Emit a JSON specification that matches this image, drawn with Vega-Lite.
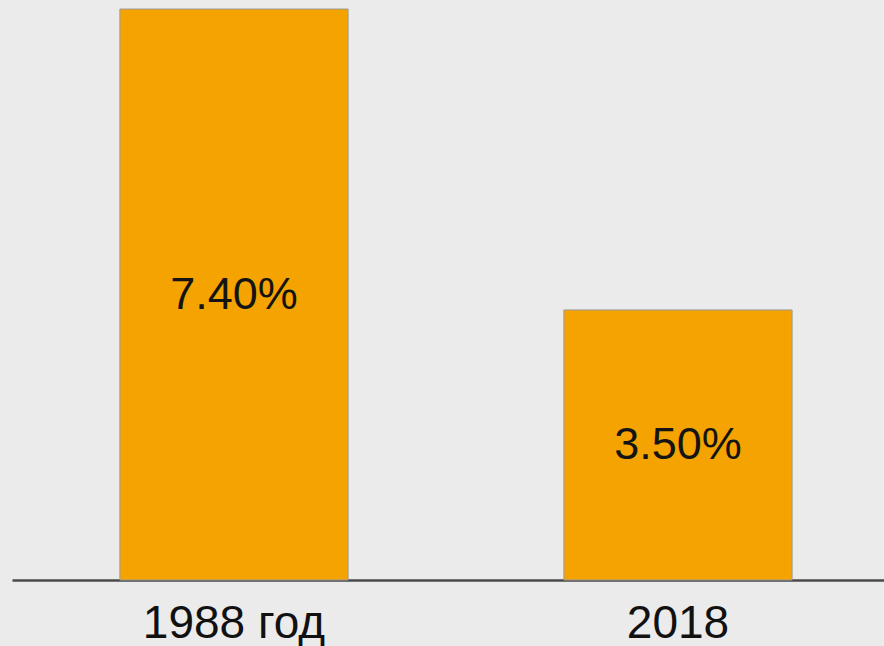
{
  "$schema": "https://vega.github.io/schema/vega-lite/v6.json",
  "width": 872,
  "height": 580,
  "autosize": {"type": "none"},
  "padding": {"left": 12, "top": 0, "right": 0, "bottom": 66},
  "background": "#ebebeb",
  "config": {
    "view": {"stroke": null},
    "font": "Liberation Sans"
  },
  "data": {
    "values": [
      {"year": "1988 год", "share": 0.074},
      {"year": "2018", "share": 0.035}
    ]
  },
  "transform": [{"calculate": "datum.share / 2", "as": "mid"}],
  "encoding": {
    "x": {
      "field": "year",
      "type": "nominal",
      "sort": null,
      "scale": {"range": [0, 888], "paddingInner": 0.486, "paddingOuter": 0.243},
      "axis": {
        "title": null,
        "ticks": false,
        "labelAngle": 0,
        "labelFontSize": 46,
        "labelLimit": 0,
        "labelColor": "#111111",
        "labelPadding": 21,
        "domainColor": "#4a4a4a",
        "domainWidth": 2.5,
        "grid": false
      }
    }
  },
  "layer": [
    {
      "mark": {"type": "bar", "color": "#f5a300", "stroke": "#9a9a9a", "strokeWidth": 1},
      "encoding": {
        "y": {
          "field": "share",
          "type": "quantitative",
          "scale": {"domain": [0, 0.07517], "nice": false, "zero": true},
          "axis": null
        }
      }
    },
    {
      "mark": {"type": "text", "fontSize": 45, "color": "#141414", "baseline": "middle", "align": "center"},
      "encoding": {
        "y": {"field": "mid", "type": "quantitative", "scale": {"domain": [0, 0.07517], "nice": false}},
        "text": {"field": "share", "type": "quantitative", "format": ".2%"}
      }
    }
  ]
}
